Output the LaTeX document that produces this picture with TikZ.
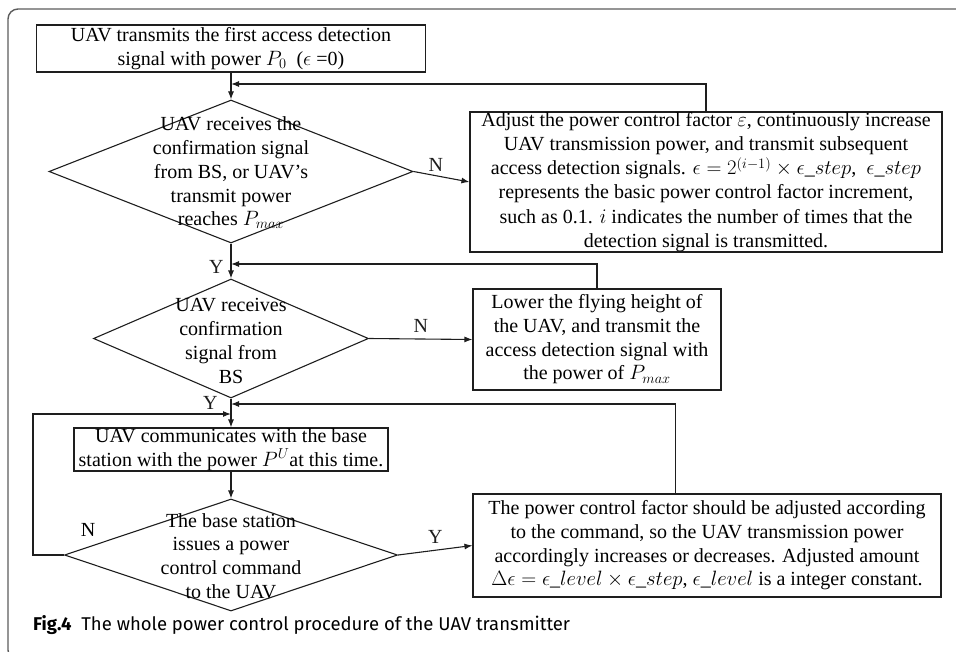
\documentclass[tikz,border=0pt]{standalone}
\usepackage{fontspec}
\setmainfont{Liberation Serif}
\newfontfamily\capfont{Fira Sans}
\usetikzlibrary{arrows.meta, positioning, calc, shapes.geometric}
\definecolor{framec}{HTML}{5C5C5C}
\definecolor{linec}{HTML}{1E1E1E}
\tikzset{
  procbox/.style={draw=linec, line width=1.1pt, inner sep=0pt, align=center},
  decision/.style={diamond, draw=linec, line width=1.1pt, inner sep=0pt},
  dtext/.style={align=center, inner sep=0pt},
  flow/.style={-{Latex[length=8pt,width=6pt]}, linec, line width=1.1pt},
  yn/.style={inner sep=1pt},
}

\begin{document}
\begin{tikzpicture}[x=1pt, y=-1pt, font=\fontsize{20}{23.7}\selectfont]
    \useasboundingbox (0,0) rectangle (956,651);
    % outer frame
    \begin{scope}
      \clip (0,0) rectangle (956,651);
      \draw[framec, line width=1.4pt, rounded corners=10pt]
        (970,9) -- (8,9) -- (8,660) -- (60,660);
    \end{scope}
    % process boxes
    \node[procbox, minimum width=389pt, minimum height=47pt] (start) at (231,48.5)
      {UAV transmits the first access detection\\
       signal with power $P_0$\ \ ($\epsilon$ =0)};
    \node[procbox, minimum width=472pt, minimum height=140pt,
          font=\fontsize{20}{24.2}\selectfont] (adjust) at (706,182)
      {Adjust the power control factor $\varepsilon$, continuously increase\\
       UAV transmission power, and transmit subsequent\\
       access detection signals. $\epsilon=2^{\raisebox{-2pt}{$\scriptstyle(i-1)$}}\times\epsilon\_step$,\ \ $\epsilon\_step$\\
       represents the basic power control factor increment,\\
       such as 0.1. $i$ indicates the number of times that the\\
       detection signal is transmitted.};
    \node[procbox, minimum width=248pt, minimum height=101pt] (lower) at (597,339.5)
      {Lower the flying height of\\
       the UAV, and transmit the\\
       access detection signal with\\
       the power of $P_{max}$};
    \node[procbox, minimum width=314pt, minimum height=43pt] (comm) at (231,449.5)
      {UAV communicates with the base\\
       station with the power $P^U$at this time.};
    \node[procbox, minimum width=468pt, minimum height=103pt] (update) at (707,545.5)
      {The power control factor should be adjusted according\\
       to the command, so the UAV transmission power\\
       accordingly increases or decreases. Adjusted amount\\
       $\Delta\epsilon=\epsilon\_level\times\epsilon\_step$, $\epsilon\_level$ is a integer constant.};
    % decisions
    \node[decision, minimum width=364pt, minimum height=143pt] (ack) at (231,171.5) {};
    \node[dtext] (acktxt) at (231,173)
      {UAV receives the\\ confirmation signal\\ from BS, or UAV's\\ transmit power\\ reaches $P_{max}$};
    \node[decision, minimum width=275pt, minimum height=119pt] (ack2) at (231,338.5) {};
    \node[dtext] (ack2txt) at (231,341)
      {UAV receives\\ confirmation\\ signal from\\ BS};
    \node[decision, minimum width=333pt, minimum height=112pt] (cmd) at (231,555) {};
    \node[dtext] (cmdtxt) at (231,556)
      {The base station\\ issues a power\\ control command\\ to the UAV};
    % junctions on the main line
    \coordinate (j1) at (231,84);
    \coordinate (j2) at (231,264);
    \coordinate (j3) at (231,404);
    \coordinate (j4) at (231,414);
    % main flow
    \draw[flow] (start) -- (ack);
    \draw[flow] (ack) -- node[yn, pos=0.68, left=6pt] (y1) {Y} (ack2);
    \draw[flow] (ack2) -- node[yn, pos=0.15, left=12pt] (y2) {Y} (comm);
    \draw[flow] (comm) -- (cmd);
    \draw[flow] (ack.east) -- node[yn, pos=0.4, above=3pt] (n1) {N} (adjust.west);
    \draw[flow] (ack2.east) -- node[yn, midway, above=5pt] (n2) {N} (lower.west);
    \draw[flow] (cmd.east) -- node[yn, midway, above=5pt] (y3) {Y} (update.west);
    % feedback loops
    \draw[flow] (adjust.north) |- (j1);
    \draw[flow] (lower.north) |- (j2);
    \draw[flow] ($(update.north west)!0.432!(update.north east)$) |- (j3);
    \draw[flow] (cmd.west) -- ++(-31,0) |- (j4);
    \node[yn] (n3) at (88,530) {N};
    % caption
    \node[anchor=base west, inner sep=0pt, font=\capfont\fontsize{18.5}{21}\selectfont]
      (caption) at (33,630) {\textbf{Fig.4}\ \ The whole power control procedure of the UAV transmitter};
\end{tikzpicture}
\end{document}
